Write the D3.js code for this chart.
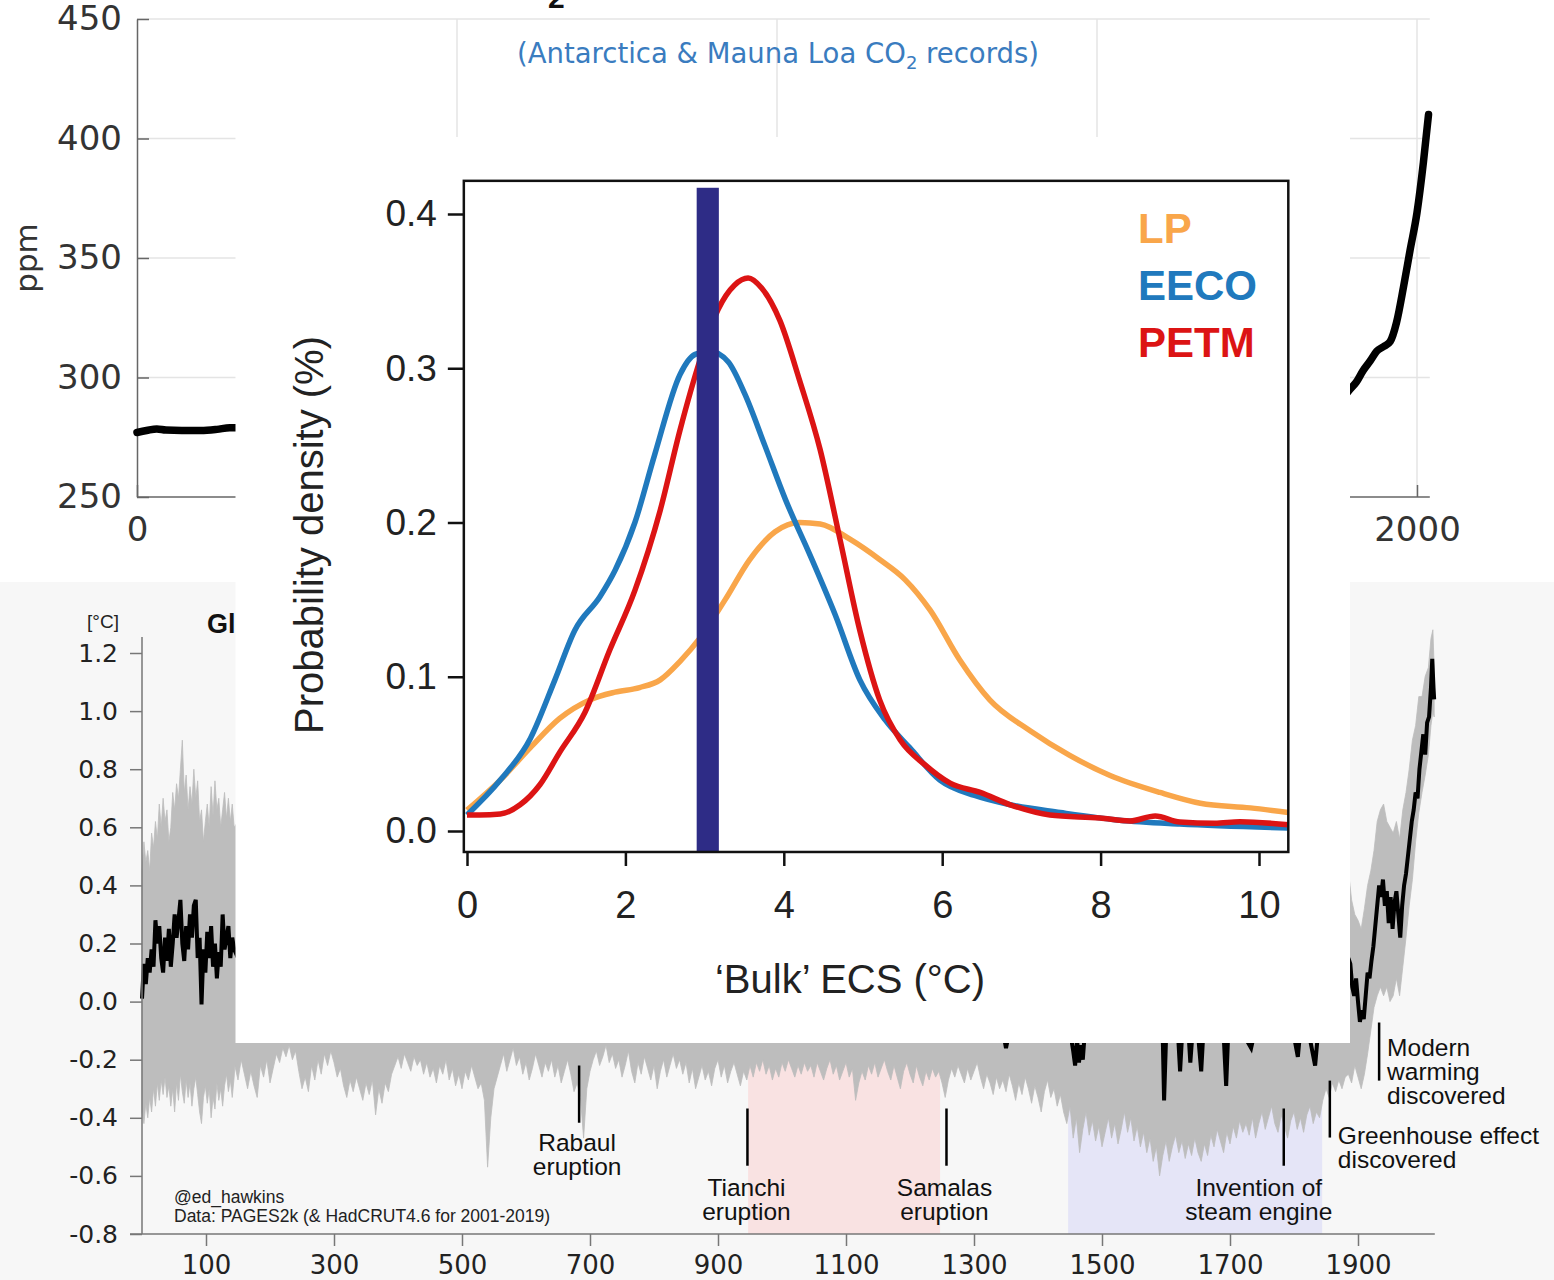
<!DOCTYPE html>
<html><head><meta charset="utf-8">
<script src="https://cdn.jsdelivr.net/npm/d3@7"></script>
<style>body{margin:0;background:#fff}svg{display:block}</style>
</head><body>
<svg id="c" width="1554" height="1280"></svg>
<script>
// ---------------- DATA ----------------
// Top panel: CO2 (ppm)
const co2Years  = [0,15,31,45,70,100,125,145,170,200,300,400,500,600,700,800,900,1000,1100,1200,1300,1400,1500,1600,1700,1750,1800,1850,1880,1895,1905,1916,1927,1937,1948,1958,1968,1979,1989,2000,2010,2018];
const co2Values = [277,277.8,278.5,278,277.8,277.8,278.3,279,279,278.5,278.5,279,279.5,278.5,279,279.5,280,280.5,281,281.5,282,281,280,276,277,278,283,285.5,290,295,298,303,307,311,313,315,323,338,353,369,390,410];
const co2YTicks = [250,300,350,400,450];
const co2XTicks = [0,2000];
const co2GridX  = [500,1000,1500,2000];
const co2GridY  = [300,350,400,450];

// Bottom panel: global temperature (°C)
const tempYTicks = [-0.8,-0.6,-0.4,-0.2,0.0,0.2,0.4,0.6,0.8,1.0,1.2];
const tempXTicks = [100,300,500,700,900,1100,1300,1500,1700,1900];

const medianEarly = [0.01,0.13,0.06,0.15,0.10,0.18,0.12,0.28,0.20,0.26,0.15,0.10,0.22,0.14,0.25,0.12,0.20,0.30,0.22,0.28,0.35,0.20,0.14,0.26,0.18,0.30,0.22,0.33,0.35,0.15,0.22,-0.01,0.18,0.10,0.24,0.15,0.26,0.12,0.20,0.08,0.17,0.12,0.30,0.18,0.22,0.26,0.15,0.22,0.18];
const medianMid = [
 0.15,0.10,0.18,0.08,0.12,0.05,0.10,0.14,0.06,0.09,
 0.04,0.08,0.02,0.06,0.10,0.03,0.07,0.01,0.05,0.08,
 0.02,0.06,0.00,0.04,0.08,0.10,0.05,0.09,0.12,0.07,
 0.10,0.06,0.09,0.04,0.08,0.03,0.06,0.02,0.00,-0.10,
 -0.05,0.00,0.04,0.07,0.03,0.06,0.02,0.05,0.08,0.04,
 0.06,0.02,0.05,-0.04,0.00,0.04,0.07,0.03,0.06,0.09,
 0.05,0.08,0.04,0.07,0.03,0.06,0.09,0.05,0.08,0.04,
 0.07,0.03,0.06,0.02,0.05,0.08,0.10,0.06,0.09,0.12,
 0.10,0.13,0.09,0.12,0.08,0.11,0.14,0.10,0.13,0.09,
 0.12,0.08,0.11,0.14,0.10,0.07,0.11,0.04,0.08,0.10,
 0.07,0.10,0.06,0.09,0.05,0.08,0.04,0.07,0.03,0.05,
 -0.05,0.00,0.03,0.00,0.02,-0.02,0.01,-0.03,-0.01,-0.04,
 -0.16,-0.05,-0.02,-0.06,-0.03,-0.07,-0.04,-0.08,-0.05,-0.10];
const medianLIAYears = [1450,1455,1458,1461,1464,1467,1470,1473,1480,1490,1500,1510,1520,1530,1540,1550,1560,1570,1580,1590,1595,1597,1600,1610,1619,1622,1625,1635,1638,1641,1650,1655,1658,1670,1680,1690,1694,1697,1710,1720,1733,1740,1750,1760,1770,1780,1790,1800,1806,1809,1815,1825,1833,1837,1845,1855,1865,1875,1880];
const medianLIA = [-0.10,-0.17,-0.22,-0.13,-0.21,-0.15,-0.20,-0.11,-0.09,-0.12,-0.08,-0.11,-0.07,-0.10,-0.06,-0.09,-0.11,-0.08,-0.12,-0.10,-0.13,-0.34,-0.13,-0.11,-0.12,-0.24,-0.12,-0.10,-0.21,-0.12,-0.11,-0.24,-0.12,-0.10,-0.12,-0.11,-0.29,-0.12,-0.09,-0.11,-0.16,-0.09,-0.10,-0.08,-0.11,-0.07,-0.10,-0.12,-0.19,-0.12,-0.11,-0.13,-0.22,-0.12,-0.08,-0.10,-0.05,-0.02,0.05];
const medianLateYears = [1885,1888,1891,1894,1897,1900,1903,1906,1909,1912,1915,1918,1921,1924,1927,1930,1933,1936,1939,1942,1945,1948,1951,1954,1957,1960,1963,1966,1969,1972,1975,1978,1981,1984,1987,1990,1993,1996,1999,2002,2005,2008,2011,2014,2016,2018,2019];
const medianLate = [0.15,0.13,0.05,0.02,0.08,0.0,-0.07,-0.03,-0.06,0.02,0.1,0.08,0.14,0.19,0.26,0.33,0.40,0.36,0.42,0.33,0.38,0.27,0.36,0.25,0.34,0.38,0.30,0.22,0.33,0.40,0.44,0.50,0.56,0.62,0.66,0.72,0.70,0.80,0.86,0.92,0.85,0.96,0.98,1.08,1.18,1.08,1.04];

const upperEarly = [0.45,0.55,0.48,0.52,0.45,0.58,0.53,0.62,0.56,0.68,0.60,0.70,0.62,0.66,0.55,0.60,0.72,0.66,0.75,0.70,0.80,0.90,0.72,0.78,0.66,0.74,0.68,0.80,0.70,0.76,0.62,0.66,0.55,0.62,0.68,0.60,0.74,0.64,0.76,0.66,0.70,0.60,0.66,0.72,0.63,0.70,0.62,0.68,0.60];
const upperMid = [0.62,0.55,0.50,0.52,0.48,0.55,0.50,0.45,0.52,0.48,0.50,0.46,0.52,0.50,0.55,0.58,0.60,0.56,0.55,0.50,0.48,0.45,0.40,0.38,0.42,0.35,0.30,0.32,0.28,0.30,0.26,0.30,0.28,0.32,0.35];
const upperLateYears = [1885,1890,1895,1900,1905,1910,1915,1920,1925,1930,1935,1940,1945,1950,1955,1960,1965,1970,1975,1980,1985,1990,1995,2000,2005,2010,2014,2017,2019];
const upperLate = [0.45,0.35,0.30,0.28,0.25,0.32,0.40,0.45,0.52,0.62,0.66,0.68,0.62,0.60,0.58,0.62,0.56,0.66,0.72,0.80,0.90,0.95,1.05,1.05,1.12,1.15,1.25,1.28,1.15];

const lowerEarly = [-0.38,-0.42,-0.35,-0.40,-0.33,-0.38,-0.30,-0.36,-0.28,-0.34,-0.27,-0.32,-0.26,-0.33,-0.29,-0.36,-0.30,-0.38,-0.28,-0.34,-0.25,-0.31,-0.35,-0.27,-0.33,-0.28,-0.36,-0.30,-0.26,-0.32,-0.38,-0.42,-0.33,-0.29,-0.35,-0.30,-0.40,-0.33,-0.37,-0.28,-0.34,-0.30,-0.36,-0.29,-0.25,-0.31,-0.27,-0.33,-0.26];
const lowerMid = [
 -0.22,-0.27,-0.20,-0.25,-0.30,-0.24,-0.29,-0.33,-0.22,-0.26,-0.20,-0.28,-0.23,-0.18,-0.21,-0.16,-0.19,-0.15,-0.20,-0.17,
 -0.24,-0.30,-0.26,-0.31,-0.22,-0.27,-0.20,-0.25,-0.18,-0.22,-0.17,-0.21,-0.26,-0.23,-0.29,-0.33,-0.27,-0.31,-0.26,-0.30,
 -0.34,-0.28,-0.32,-0.27,-0.39,-0.30,-0.35,-0.28,-0.31,-0.25,-0.22,-0.19,-0.23,-0.18,-0.21,-0.24,-0.19,-0.22,-0.20,-0.25,
 -0.21,-0.26,-0.23,-0.28,-0.22,-0.25,-0.20,-0.27,-0.23,-0.29,-0.25,-0.30,-0.24,-0.27,-0.22,-0.26,-0.30,-0.28,-0.34,-0.57,
 -0.40,-0.30,-0.26,-0.22,-0.18,-0.24,-0.20,-0.16,-0.22,-0.19,-0.25,-0.21,-0.27,-0.23,-0.18,-0.22,-0.26,-0.21,-0.24,-0.20,
 -0.26,-0.22,-0.28,-0.24,-0.20,-0.25,-0.31,-0.28,-0.33,-0.47,-0.30,-0.24,-0.20,-0.17,-0.22,-0.19,-0.15,-0.21,-0.18,-0.23,
 -0.20,-0.26,-0.22,-0.17,-0.24,-0.28,-0.21,-0.25,-0.19,-0.23,-0.27,-0.22,-0.30,-0.24,-0.20,-0.26,-0.22,-0.18,-0.23,-0.20,
 -0.25,-0.21,-0.28,-0.23,-0.30,-0.26,-0.22,-0.27,-0.24,-0.29,-0.23,-0.20,-0.26,-0.22,-0.28,-0.24,-0.21,-0.25,-0.29,-0.24,
 -0.27,-0.22,-0.26,-0.21,-0.24,-0.20,-0.25,-0.22,-0.27,-0.23,-0.26,-0.21,-0.24,-0.20,-0.23,-0.26,-0.22,-0.25,-0.21,-0.24,
 -0.22,-0.26,-0.21,-0.24,-0.27,-0.23,-0.20,-0.25,-0.22,-0.27,-0.24,-0.21,-0.26,-0.23,-0.34,-0.28,-0.24,-0.27,-0.22,-0.25,
 -0.21,-0.26,-0.23,-0.20,-0.24,-0.27,-0.22,-0.26,-0.30,-0.24,-0.21,-0.25,-0.28,-0.22,-0.26,-0.29,-0.24,-0.27,-0.23,-0.26,
 -0.24,-0.28,-0.33,-0.27,-0.23,-0.26,-0.22,-0.25,-0.28,-0.23,-0.27,-0.24,-0.21,-0.26,-0.30,-0.25,-0.28,-0.32,-0.26,-0.30,
 -0.27,-0.31,-0.25,-0.29,-0.34,-0.28,-0.32,-0.26,-0.30,-0.35,-0.29,-0.33,-0.38,-0.31,-0.27,-0.33,-0.30,-0.36,-0.32,-0.38,
 -0.42,-0.36,-0.47,-0.40,-0.52,-0.44,-0.38,-0.46,-0.41,-0.48,-0.43,-0.50,-0.45,-0.40,-0.47,-0.42,-0.49,-0.44,-0.38,-0.45,
 -0.40,-0.48,-0.43,-0.50,-0.45,-0.52,-0.47,-0.55,-0.50,-0.60,-0.53,-0.48,-0.55,-0.50,-0.46,-0.52,-0.48,-0.54,-0.49,-0.53,
 -0.47,-0.52,-0.55,-0.49,-0.53,-0.46,-0.50,-0.44,-0.48,-0.52,-0.45,-0.49,-0.43,-0.47,-0.41,-0.45,-0.42,-0.46,-0.40,-0.47,
 -0.42,-0.38,-0.44,-0.40,-0.36,-0.42,-0.45,-0.39,-0.43,-0.47,-0.41,-0.38,-0.44,-0.40,-0.45,-0.39,-0.36,-0.42,-0.38,-0.40,
 -0.34,-0.30,-0.33,-0.28,-0.31,-0.27,-0.30,-0.26];
const lowerLateYears = [1885,1890,1895,1900,1905,1910,1915,1920,1925,1930,1935,1940,1945,1950,1955,1960,1965,1970,1975,1980,1985,1990,1995,2000,2005,2010,2014,2017,2019];
const lowerLate = [-0.25,-0.28,-0.22,-0.26,-0.30,-0.25,-0.18,-0.10,-0.02,0.02,0.05,0.02,0.05,0.0,0.02,0.08,0.02,0.12,0.22,0.33,0.42,0.55,0.65,0.72,0.78,0.85,0.95,1.0,0.98];

const periods = [{name:"Medieval", start:947, end:1247}, {name:"Little Ice Age", start:1447, end:1844}];
const annotYears  = [683, 946, 1257, 1784, 1856, 1933];
const annotTop    = [-0.22, -0.368, -0.368, -0.368, -0.272, -0.072];
const annotBottom = [-0.417, -0.565, -0.565, -0.565, -0.468, -0.272];
const annotLabels = [["Rabaul","eruption"],["Tianchi","eruption"],["Samalas","eruption"],["Invention of","steam engine"],["Greenhouse effect","discovered"],["Modern","warming","discovered"]];

// Inset: ECS probability densities
const ecsXTicks = [0,2,4,6,8,10];
const ecsYTicks = [0.0,0.1,0.2,0.3,0.4];
const lpX   = [0,0.42,0.8,1.17,1.55,1.87,2.18,2.44,2.69,2.94,3.26,3.57,3.89,4.2,4.46,4.84,5.21,5.53,5.85,6.22,6.6,7.11,7.61,8.12,8.75,9.26,9.89,10.37];
const lpY   = [0.0136,0.033,0.054,0.073,0.085,0.09,0.093,0.098,0.11,0.125,0.15,0.176,0.194,0.2,0.199,0.189,0.176,0.163,0.143,0.111,0.085,0.065,0.049,0.036,0.025,0.018,0.015,0.012];
const eecoX = [0,0.42,0.8,1.11,1.36,1.68,1.87,2.12,2.37,2.69,2.88,3.07,3.3,3.51,3.76,4.02,4.33,4.65,4.96,5.28,5.59,5.97,6.41,6.86,7.49,8.24,9.0,10.37];
const eecoY = [0.0104,0.033,0.06,0.098,0.13,0.152,0.169,0.2,0.244,0.296,0.309,0.311,0.304,0.283,0.25,0.215,0.179,0.14,0.098,0.072,0.054,0.033,0.023,0.017,0.012,0.007,0.0045,0.002];
const petmX = [0,0.16,0.42,0.67,0.92,1.17,1.49,1.8,2.12,2.44,2.69,2.94,3.17,3.38,3.55,3.72,3.95,4.2,4.46,4.71,4.96,5.21,5.47,5.78,6.1,6.48,6.86,7.36,7.99,8.37,8.69,9.0,9.44,9.76,10.37];
const petmY = [0.0104,0.0104,0.011,0.017,0.03,0.051,0.077,0.117,0.156,0.208,0.26,0.305,0.338,0.354,0.3585,0.352,0.331,0.292,0.247,0.189,0.13,0.085,0.059,0.043,0.031,0.025,0.017,0.0104,0.0084,0.0065,0.0097,0.0058,0.005,0.006,0.004];
const ecsSeries = ["LP","EECO","PETM"];
const ecsBar = {from:2.9, to:3.18, top:0.417};

// ---------------- HELPERS ----------------
const zip = (xs, ys) => xs.slice(0, Math.min(xs.length, ys.length)).map((x,i)=>[x, ys[i]]);
const svg = d3.select('#c');
const DV = "'DejaVu Sans', sans-serif";
const LB = "'Liberation Sans', Arial, Helvetica, sans-serif";

// ---------------- TOP PANEL ----------------
const xC = d3.scaleLinear([0,2000],[137,1417]);
const yC = d3.scaleLinear([250,450],[497,19]);
const gT = svg.append('g');
gT.append('rect').attr('x',0).attr('y',0).attr('width',1554).attr('height',582).attr('fill','#fff');
gT.selectAll('line.hg').data(co2GridY).join('line').attr('class','hg')
  .attr('x1',xC(0)).attr('x2',xC(2020)).attr('y1',d=>yC(d)).attr('y2',d=>yC(d))
  .attr('stroke','#e4e4e4').attr('stroke-width',1.5);
gT.selectAll('line.vg').data(co2GridX).join('line').attr('class','vg')
  .attr('x1',d=>xC(d)).attr('x2',d=>xC(d)).attr('y1',yC(450)).attr('y2',yC(250))
  .attr('stroke','#e4e4e4').attr('stroke-width',1.5);
const ayC = gT.append('g').attr('transform',`translate(${xC(0)},0)`)
  .call(d3.axisLeft(yC).tickValues(co2YTicks).tickSize(-12).tickPadding(15).tickSizeOuter(0));
const axC = gT.append('g').attr('transform',`translate(0,${yC(250)})`)
  .call(d3.axisBottom(xC).tickValues(co2XTicks).tickSize(-12).tickPadding(20).tickSizeOuter(0).tickFormat(d=>String(d)));
axC.select('.domain').remove();
gT.append('line').attr('x1',xC(0)).attr('x2',xC(2020)).attr('y1',yC(250)).attr('y2',yC(250)).attr('stroke','#666').attr('stroke-width',1.5);
[ayC,axC].forEach(a=>{
  a.selectAll('path,line').attr('stroke','#666').attr('stroke-width',1.5);
  a.selectAll('text').attr('font-family',DV).attr('font-size',34).attr('fill','#333');
});
gT.append('text').attr('transform','translate(37,258) rotate(-90)').attr('text-anchor','middle')
  .attr('font-family',DV).attr('font-size',31).attr('fill','#333').text('ppm');
// title (cut by the top edge of the picture, only the subscript shows)
const ttl = gT.append('text').attr('x',546).attr('y',-13).attr('text-anchor','end').attr('font-family',LB).attr('font-weight','bold').attr('font-size',44).attr('fill','#111');
ttl.text('Atmospheric CO');
gT.append('text').attr('x',548).attr('y',8).attr('font-family',LB).attr('font-weight','bold').attr('font-size',30).attr('fill','#111').text('2');
const sub = gT.append('text').attr('x',778).attr('y',63).attr('text-anchor','middle')
  .attr('font-family',DV).attr('font-size',27.5).attr('fill','#3a7cbf');
sub.append('tspan').text('(Antarctica & Mauna Loa CO');
sub.append('tspan').attr('font-size',18).attr('dy',6).text('2');
sub.append('tspan').attr('dy',-6).text(' records)');
gT.append('path').datum(zip(co2Years,co2Values))
  .attr('d', d3.line().x(d=>xC(d[0])).y(d=>yC(d[1])).curve(d3.curveMonotoneX))
  .attr('fill','none').attr('stroke','#000').attr('stroke-width',7.5).attr('stroke-linejoin','round').attr('stroke-linecap','round');

// ---------------- BOTTOM PANEL ----------------
const xT = d3.scaleLinear([0,2000],[142,1422]);
const yT = d3.scaleLinear([-0.8,1.2],[1234,653]);
const gB = svg.append('g');
gB.append('rect').attr('x',0).attr('y',582).attr('width',1554).attr('height',698).attr('fill','#f7f7f7');
const periodColors = ['#f9e2e2','#e5e5f7'];
gB.selectAll('rect.per').data(periods).join('rect').attr('class','per')
  .attr('x',d=>xT(d.start)).attr('width',d=>xT(d.end)-xT(d.start))
  .attr('y',yT(1.255)).attr('height',yT(-0.8)-yT(1.255))
  .attr('fill',(d,i)=>periodColors[i]);

const earlyYears = d3.range(0,145,3);
const upperPts = [...zip(earlyYears,upperEarly), ...zip(d3.range(150,1885,50),upperMid), ...zip(upperLateYears,upperLate)];
const lowerPts = [...zip(earlyYears,lowerEarly), ...zip(d3.range(145,1885,5),lowerMid), ...zip(lowerLateYears,lowerLate)];
const bandLine = d3.line().x(d=>xT(d[0])).y(d=>yT(d[1]));
gB.append('path').attr('d', bandLine([...upperPts, ...lowerPts.slice().reverse()]) + 'Z')
  .attr('fill','#bdbdbd').attr('stroke','#bdbdbd').attr('stroke-width',0.8);
const medPts = [...zip(earlyYears,medianEarly), ...zip(d3.range(150,1445,10),medianMid), ...zip(medianLIAYears,medianLIA), ...zip(medianLateYears,medianLate)];
gB.append('path').datum(medPts).attr('d', bandLine)
  .attr('fill','none').attr('stroke','#000').attr('stroke-width',4).attr('stroke-linejoin','miter');

const ayT = gB.append('g').attr('transform',`translate(${xT(0)},0)`)
  .call(d3.axisLeft(yT).tickValues(tempYTicks).tickSize(12).tickPadding(12).tickFormat(d=>d.toFixed(1)));
const axT = gB.append('g').attr('transform',`translate(0,${yT(-0.8)})`)
  .call(d3.axisBottom(xT).tickValues(tempXTicks).tickSize(12).tickPadding(10).tickFormat(d=>String(d)));
[ayT,axT].forEach(a=>{
  a.select('.domain').remove();
  a.selectAll('line').attr('stroke','#777').attr('stroke-width',1.5);
  a.selectAll('text').attr('font-family',DV).attr('fill','#222');
});
ayT.selectAll('text').attr('font-size',25);
axT.selectAll('text').attr('font-size',26);
gB.append('line').attr('x1',xT(0)).attr('x2',xT(0)).attr('y1',yT(1.255)).attr('y2',yT(-0.8)).attr('stroke','#777').attr('stroke-width',1.5);
gB.append('line').attr('x1',130).attr('x2',xT(2020)).attr('y1',yT(-0.8)).attr('y2',yT(-0.8)).attr('stroke','#777').attr('stroke-width',1.5);

gB.append('text').attr('x',103).attr('y',628).attr('text-anchor','middle').attr('font-family',LB).attr('font-size',19).attr('fill','#222').text('[°C]');
gB.append('text').attr('x',207).attr('y',633).attr('font-family',LB).attr('font-weight','bold').attr('font-size',27).attr('fill','#111').text('Global temperature change (last 2000 years)');
gB.append('text').attr('x',174).attr('y',1203).attr('font-family',LB).attr('font-size',17.5).attr('fill','#222').text('@ed_hawkins');
gB.append('text').attr('x',174).attr('y',1222).attr('font-family',LB).attr('font-size',17.5).attr('fill','#222').text('Data: PAGES2k (& HadCRUT4.6 for 2001-2019)');

// annotations
const annotLayout = [
  {dx:-2, anchor:'middle', first:'bottom', off:28},
  {dx:-1, anchor:'middle', first:'bottom', off:30},
  {dx:-2, anchor:'middle', first:'bottom', off:30},
  {dx:-25, anchor:'middle', first:'bottom', off:30},
  {dx:8, anchor:'start', first:'bottom', off:6},
  {dx:8, anchor:'start', first:'top', off:33}
];
annotYears.forEach((yr,i)=>{
  const x = xT(yr);
  gB.append('line').attr('x1',x).attr('x2',x).attr('y1',yT(annotTop[i])).attr('y2',yT(annotBottom[i]))
    .attr('stroke','#000').attr('stroke-width',2.5);
  const L = annotLayout[i];
  const y0 = (L.first==='bottom' ? yT(annotBottom[i]) : yT(annotTop[i])) + L.off;
  annotLabels[i].forEach((s,j)=>{
    gB.append('text').attr('x',x+L.dx).attr('y',y0+j*24.2).attr('text-anchor',L.anchor)
      .attr('font-family',LB).attr('font-size',24.5).attr('fill','#111').text(s);
  });
});

// ---------------- INSET ----------------
const gI = svg.append('g');
gI.append('rect').attr('x',235.5).attr('y',137).attr('width',1114.5).attr('height',906).attr('fill','#fff');
const xE = d3.scaleLinear([0,10],[467,1259]);
const yE = d3.scaleLinear([0,0.4],[831,214]);
const ecsColors = {LP:'#f9a64a', EECO:'#2079bd', PETM:'#dc1414'};
const ecsData = {LP:zip(lpX,lpY), EECO:zip(eecoX,eecoY), PETM:zip(petmX,petmY)};
const eLine = d3.line().x(d=>xE(d[0])).y(d=>yE(d[1])).curve(d3.curveMonotoneX);
ecsSeries.forEach(s=>{
  gI.append('path').datum(ecsData[s]).attr('d',eLine).attr('fill','none')
    .attr('stroke',ecsColors[s]).attr('stroke-width',5.5).attr('stroke-linejoin','round');
});
gI.append('rect').attr('x',xE(ecsBar.from)).attr('width',xE(ecsBar.to)-xE(ecsBar.from))
  .attr('y',yE(ecsBar.top)).attr('height',852-yE(ecsBar.top)).attr('fill','#2e2c86');
gI.append('rect').attr('x',xE(-0.04)).attr('y',yE(0.4215)).attr('width',xE(10.37)-xE(-0.04)).attr('height',yE(-0.0136)-yE(0.4215))
  .attr('fill','none').attr('stroke','#111').attr('stroke-width',2.5);
const ayE = gI.append('g').attr('transform',`translate(${xE(-0.04)},0)`)
  .call(d3.axisLeft(yE).tickValues(ecsYTicks).tickSize(16).tickPadding(11).tickFormat(d=>d.toFixed(1)));
const axE = gI.append('g').attr('transform',`translate(0,${yE(-0.0136)})`)
  .call(d3.axisBottom(xE).tickValues(ecsXTicks).tickSize(14).tickPadding(25).tickFormat(d=>String(d)));
[ayE,axE].forEach(a=>{
  a.select('.domain').remove();
  a.selectAll('line').attr('stroke','#111').attr('stroke-width',2.5);
  a.selectAll('text').attr('font-family',LB).attr('fill','#222');
});
ayE.selectAll('text').attr('font-size',37);
axE.selectAll('text').attr('font-size',38);
gI.append('text').attr('x',850).attr('y',993).attr('text-anchor','middle').attr('font-family',LB).attr('font-size',40).attr('fill','#222').text('‘Bulk’ ECS (°C)');
gI.append('text').attr('transform','translate(323,535) rotate(-90)').attr('text-anchor','middle')
  .attr('font-family',LB).attr('font-size',40).attr('fill','#222').text('Probability density (%)');
ecsSeries.forEach((s,i)=>{
  gI.append('text').attr('x',1138).attr('y',243+i*57).attr('font-family',LB).attr('font-weight','bold')
    .attr('font-size',42).attr('fill',ecsColors[s]).text(s);
});
</script>
</body></html>
